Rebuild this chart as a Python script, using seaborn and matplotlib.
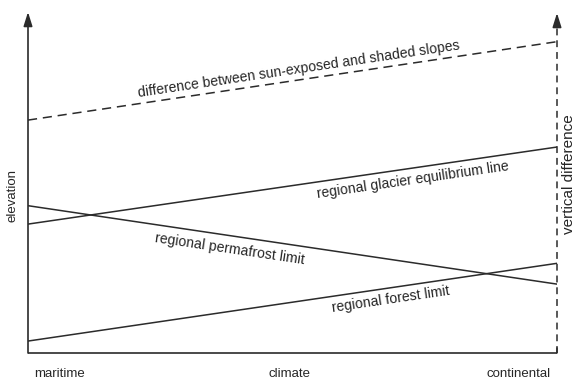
import math
import numpy as np
import pandas as pd
import matplotlib
matplotlib.use("Agg")
import matplotlib.pyplot as plt
import seaborn as sns

sns.set_theme(style="white")
plt.rcParams["font.family"] = ["Liberation Sans", "DejaVu Sans"]

# climate gradient from maritime (0) to continental (1)
climate = [0.0, 1.0]
tick_pos = [0.06, 0.495, 0.928]
tick_labels = ["maritime", "climate", "continental"]

# relative elevation of each limit at both ends of the gradient
slope_difference = [68.3, 91.3]
glacier_ela = [37.8, 60.4]
permafrost = [43.2, 20.2]
forest = [3.5, 26.3]

labels = {
    "slope": "difference between sun-exposed and shaded slopes",
    "glacier": "regional glacier equilibrium line",
    "permafrost": "regional permafrost limit",
    "forest": "regional forest limit",
}

INK = "#2b2b2b"
TXT = "#262626"

fig = plt.figure(figsize=(5.76, 3.81), dpi=100)
ax = fig.add_axes([28 / 576, 28 / 381, 529 / 576, 341 / 381])
ax.set_xlim(0, 1)
ax.set_ylim(0, 100)
for s in ax.spines.values():
    s.set_visible(False)

df = pd.DataFrame({"climate": climate * 4,
                   "elevation": slope_difference + glacier_ela + permafrost + forest,
                   "limit": ["slope"] * 2 + ["glacier"] * 2 + ["permafrost"] * 2 + ["forest"] * 2})

sns.lineplot(data=df[df.limit == "slope"], x="climate", y="elevation", ax=ax,
             color=INK, lw=1.1, linestyle=(0, (6, 3.8)), legend=False)
for key in ["glacier", "permafrost", "forest"]:
    sns.lineplot(data=df[df.limit == key], x="climate", y="elevation", ax=ax,
                 color=INK, lw=1.1, legend=False)

# axes: solid elevation arrow, dashed vertical-difference arrow, baseline
ax.annotate("", xy=(0, 100), xytext=(0, 0), xycoords="data",
            arrowprops=dict(arrowstyle="-|>,head_length=0.7,head_width=0.22", color=INK,
                            lw=1.2, shrinkA=0, shrinkB=0), annotation_clip=False)
ax.plot([1, 1], [0, 96.5], color=INK, lw=1.1, linestyle=(0, (4.5, 3.2)), clip_on=False)
ax.annotate("", xy=(1, 99.7), xytext=(1, 96), xycoords="data",
            arrowprops=dict(arrowstyle="-|>,head_length=0.7,head_width=0.22", color=INK,
                            lw=1.2, shrinkA=0, shrinkB=0), annotation_clip=False)
ax.plot([0, 1], [0, 0], color=INK, lw=1.2, clip_on=False, solid_capstyle="butt")
ax.plot([1, 1], [0, 1.6], color=INK, lw=1.1, clip_on=False)

ax.set_xticks(tick_pos)
ax.set_xticklabels(tick_labels, fontsize=9.5, color=TXT)
ax.tick_params(axis="x", length=0, pad=11)
ax.set_yticks([])
ax.set_xlabel("")
ax.set_ylabel("")

fig.canvas.draw()


def line_angle(vals):
    p0 = ax.transData.transform((climate[0], vals[0]))
    p1 = ax.transData.transform((climate[1], vals[1]))
    return math.degrees(math.atan2(p1[1] - p0[1], p1[0] - p0[0]))


def label_line(vals, text, xpos, offset_px):
    ang = line_angle(vals)
    y = np.interp(xpos, climate, vals)
    r = math.radians(ang)
    d = offset_px * 0.72
    ax.annotate(text, xy=(xpos, y), xytext=(-math.sin(r) * d, math.cos(r) * d),
                textcoords="offset points", rotation=ang, rotation_mode="anchor",
                ha="center", va="center", fontsize=10.1, color=TXT)


label_line(slope_difference, labels["slope"], 0.514, 11)
label_line(glacier_ela, labels["glacier"], 0.724, -12)
label_line(permafrost, labels["permafrost"], 0.384, -13)
label_line(forest, labels["forest"], 0.682, -12)

ax.text(-0.030, 46.3, "elevation", rotation=90, ha="center", va="center",
        fontsize=9.5, color=TXT, clip_on=False)
ax.text(1.022, 52.5, "vertical difference", rotation=90, ha="center", va="center",
        fontsize=11, color=TXT, clip_on=False)

fig.savefig("out.png", dpi=100)
